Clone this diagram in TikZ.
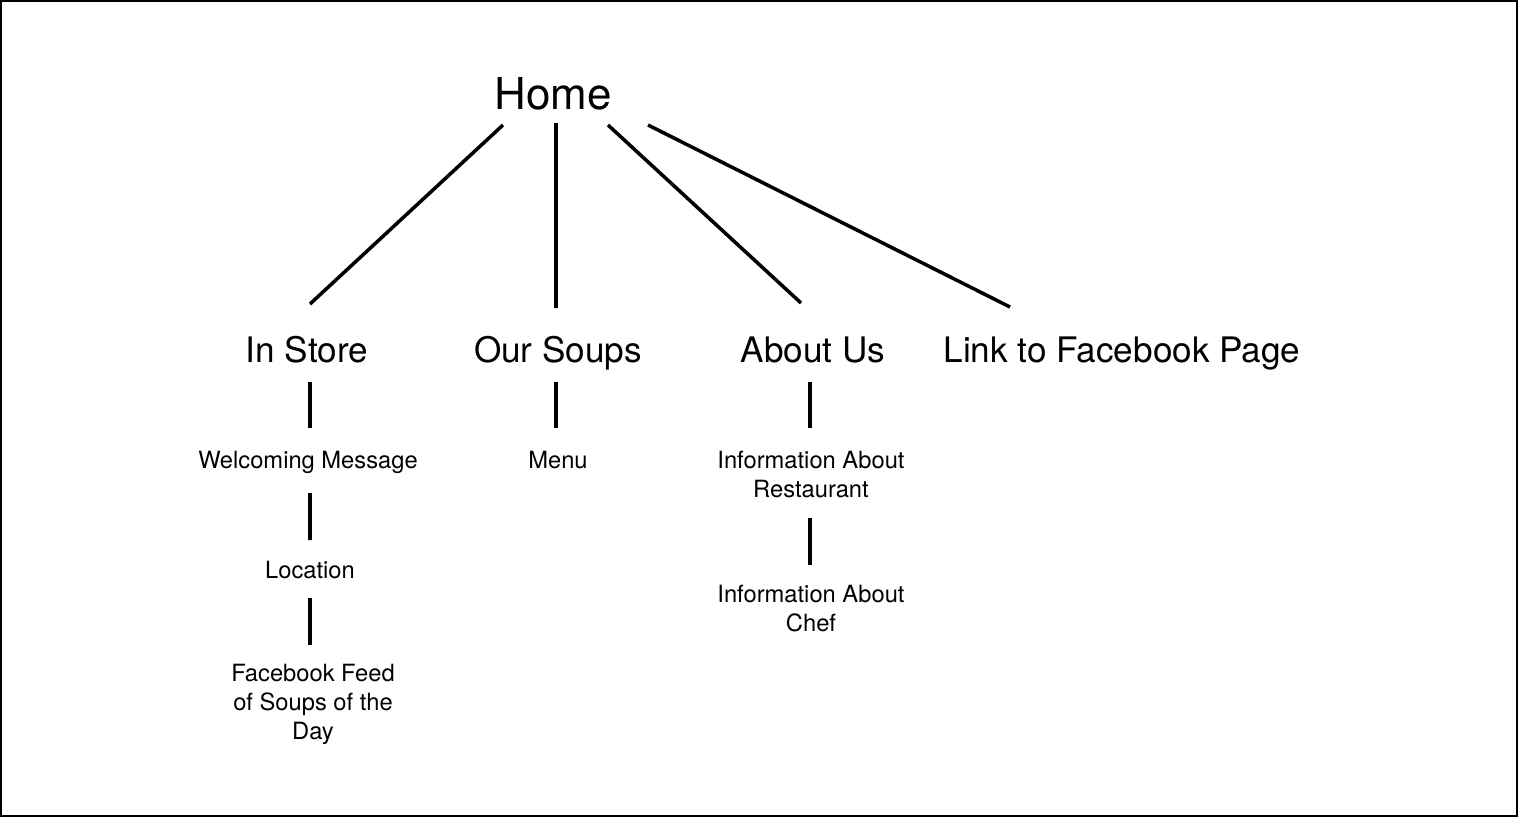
\documentclass[tikz,border=0pt]{standalone}
\usepackage{fontspec}
\setmainfont{TeX Gyre Heros}
\usetikzlibrary{positioning,calc}
\tikzset{
  home page/.style={
    inner sep=0pt,
    text height=18pt,
    text depth=0pt,
    font=\fontsize{25}{30}\selectfont
  },
  section page/.style={
    inner sep=0pt,
    text height=14.4pt,
    text depth=0pt,
    font=\fontsize{20}{24}\selectfont
  },
  leaf page/.style={
    inner sep=0pt,
    align=center,
    font=\fontsize{13.5}{16.5}\selectfont
  },
  short leaf/.style={
    leaf page,
    text height=9.7pt,
    text depth=0pt
  },
  link/.style={
    line width=2pt
  }
}
\begin{document}
\begin{tikzpicture}
  \useasboundingbox (0,0) rectangle (30.38,-16.36);
  \draw[line width=1.1pt] (0.02,-0.02) rectangle (30.34,-16.32);

  % site map
  \node[home page] (home) at (11.06,-1.88) {Home};

  \node[section page] (store)  at (6.14,-7.0)  {In Store};
  \node[section page] (soups)  at (11.16,-7.0) {Our Soups};
  \node[section page] (about)  at (16.26,-7.0) {About Us};
  \node[section page] (fblink) at (22.44,-7.0) {Link to Facebook Page};

  \node[short leaf] (welcome)  at (6.16,-9.2)   {Welcoming Message};
  \node[short leaf] (location) at (6.2,-11.4)   {Location};
  \node[leaf page] (feed)      at (6.26,-14.08) {Facebook Feed\\of Soups of the\\Day};
  \node[short leaf] (menu)     at (11.16,-9.2)  {Menu};
  \node[leaf page] (restaurant) at (16.22,-9.49) {Information About\\Restaurant};
  \node[leaf page] (chef)       at (16.22,-12.17){Information About\\Chef};

  \draw[link] ([shift={(-1.0,-0.62)}]home.center) -- ([shift={(0.06,0.92)}]store.center);
  \draw[link] ([shift={(0.06,-0.58)}]home.center) -- ([shift={(-0.04,0.84)}]soups.center);
  \draw[link] ([shift={(1.1,-0.62)}]home.center) -- ([shift={(-0.24,0.94)}]about.center);
  \draw[link] ([shift={(1.9,-0.62)}]home.center) -- ([shift={(-2.24,0.86)}]fblink.center);

  \draw[link, shorten <=0.64cm, shorten >=0.64cm] ([xshift=0.06cm]store.center) -- ([xshift=0.04cm]welcome.center);
  \draw[link, shorten <=0.66cm, shorten >=0.6cm] ([xshift=0.04cm]welcome.center) -- (location.center);
  \draw[link, shorten <=0.56cm, shorten >=1.18cm] (location.center) -- (location.center |- feed.center);
  \draw[link, shorten <=0.64cm, shorten >=0.64cm] ([xshift=-0.04cm]soups.center) -- ([xshift=-0.04cm]menu.center);
  \draw[link, shorten <=0.64cm, shorten >=0.93cm] ([xshift=-0.06cm]about.center) -- ([xshift=-0.02cm]restaurant.center);
  \draw[link, shorten <=0.87cm, shorten >=0.87cm] ([xshift=-0.02cm]restaurant.center) -- ([xshift=-0.02cm]chef.center);
\end{tikzpicture}
\end{document}
